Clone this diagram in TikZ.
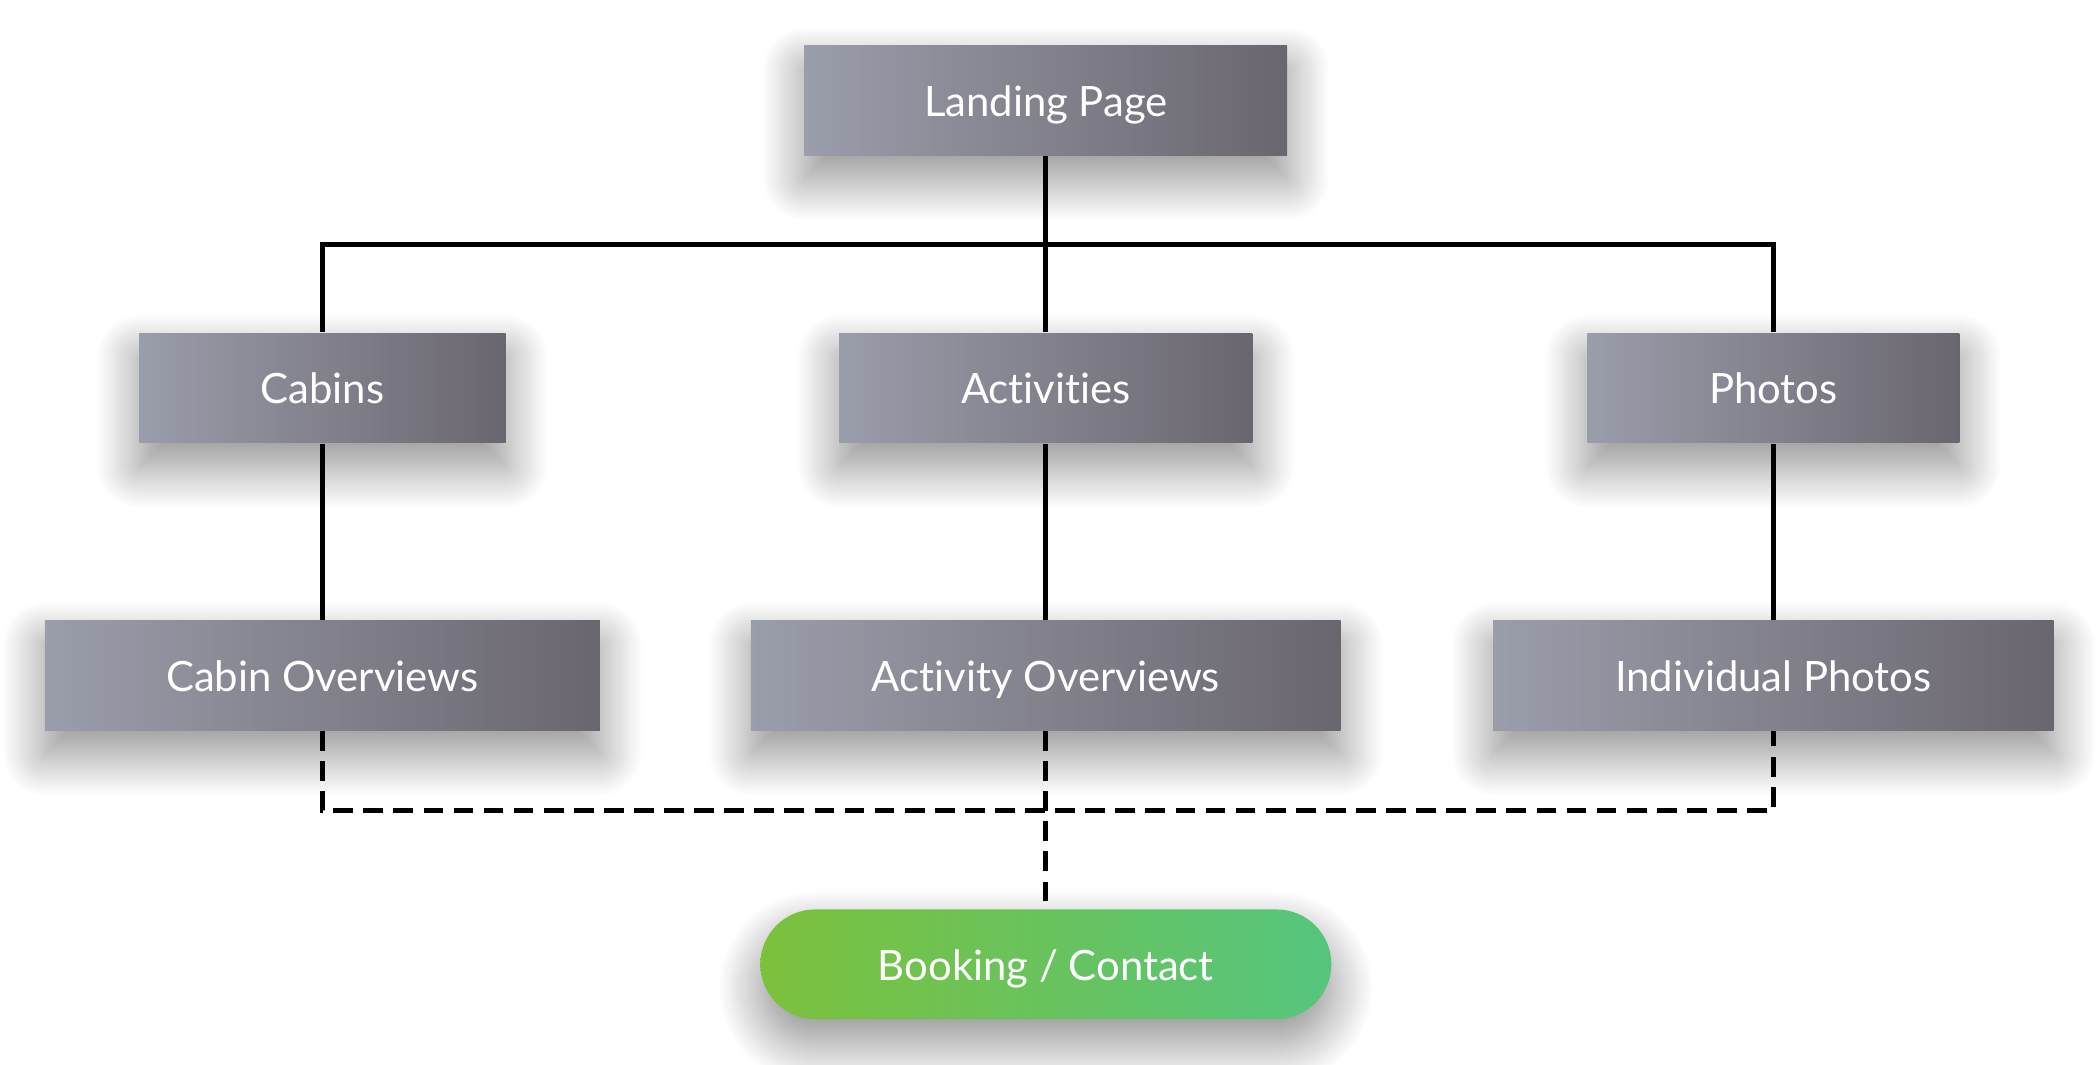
\documentclass[tikz,border=0pt]{standalone}
\usepackage{fontspec}
\setmainfont[Ligatures=NoCommon]{Lato}
\usetikzlibrary{shadows.blur}
\definecolor{greyL}{HTML}{9A9DAA}
\definecolor{greyR}{HTML}{6A666F}
\definecolor{greenL}{HTML}{7CC13C}
\definecolor{greenR}{HTML}{55C57E}

\begin{document}
\begin{tikzpicture}[
    page/.style={rectangle, minimum height=0.82cm, inner sep=0pt, text=white,
      text height=6.8pt, text depth=0pt,
      left color=greyL, right color=greyR,
      blur shadow={shadow xshift=0pt, shadow yshift=-5pt, shadow blur radius=9pt,
        shadow blur steps=30, shadow opacity=45},
      font=\fontsize{8.9}{10}\selectfont},
    goal/.style={page, rounded corners=0.41cm, left color=greenL, right color=greenR},
    link/.style={black, line width=1.1pt},
    weak/.style={link, dash pattern=on 4.2pt off 2.2pt}
  ]
    \useasboundingbox (0,0) rectangle (15.68,7.96);

    \node[page, minimum width=3.61cm] (landing) at (7.82,7.21) {Landing Page};

    \node[page, minimum width=2.74cm] (cabins) at (2.41,5.06) {Cabins};
    \node[page, minimum width=3.09cm] (activities) at (7.82,5.06) {Activities};
    \node[page, minimum width=2.78cm] (photos) at (13.26,5.06) {Photos};

    \node[page, minimum width=4.15cm] (cabinov) at (2.41,2.91) {Cabin Overviews};
    \node[page, minimum width=4.41cm] (activityov) at (7.82,2.91) {Activity Overviews};
    \node[page, minimum width=4.19cm] (indivphotos) at (13.26,2.91) {Individual Photos};

    \node[goal, minimum width=4.27cm] (booking) at (7.82,0.75) {Booking / Contact};

    \coordinate (bus) at (7.82,6.13);
    \coordinate (dashbus) at (7.82,1.90);

    \draw[link] (landing) -- (activities);
    \draw[link] (cabins.north) |- (bus) -| (photos.north);
    \draw[link] (cabins) -- (cabinov);
    \draw[link] (activities) -- (activityov);
    \draw[link] (photos) -- (indivphotos);

    \draw[weak] (cabinov.south) |- (dashbus) -| (indivphotos.south);
    \draw[weak] (activityov) -- (booking);

\end{tikzpicture}
\end{document}
